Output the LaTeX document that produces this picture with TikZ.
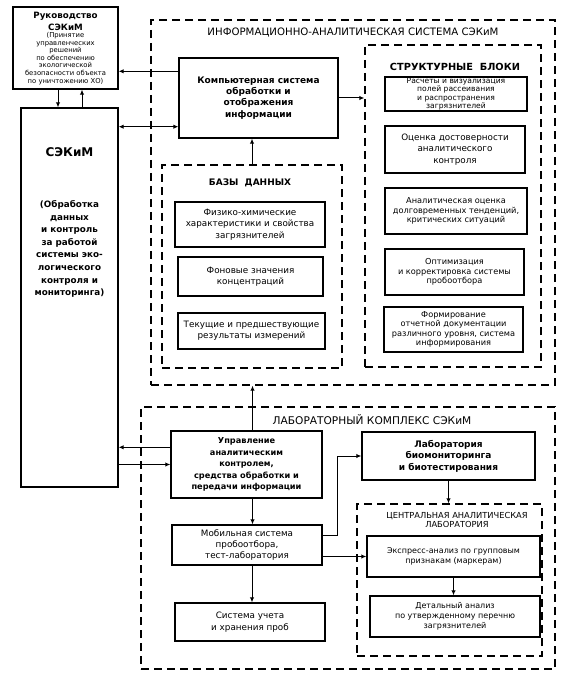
\documentclass[tikz,border=0pt]{standalone}
\usepackage{fontspec}
\setmainfont{DejaVu Sans}
\usetikzlibrary{arrows.meta}
\begin{document}
\begin{tikzpicture}[x=1pt,y=-1pt,>={Latex[length=5pt,width=4.5pt]},line width=1pt,
                    box/.style={draw, line width=1.4pt, align=center, inner sep=1pt},
                    group/.style={draw, line width=1.4pt, dash pattern=on 8pt off 5pt, inner sep=0pt},
                    label/.style={align=center, inner sep=0pt},
                    tiny/.style={font=\fontsize{8.2}{9.3}\selectfont},
                    small/.style={font=\fontsize{8}{9.8}\selectfont},
                    norm/.style={font=\fontsize{8.8}{11.3}\selectfont},
                    bold/.style={font=\bfseries\fontsize{9}{11.3}\selectfont},
                    head/.style={font=\fontsize{10.2}{12}\selectfont},
                    boldhead/.style={font=\bfseries\fontsize{9.8}{12}\selectfont}]
\useasboundingbox (0,0) rectangle (564,676);

\node[box, minimum width=105pt, minimum height=82pt] (rukov) at (65.5,48) {};
\node[label, font=\bfseries\fontsize{8.7}{11.5}\selectfont] (rukovhead) at (65.5,21.5) {Руководство\\СЭКиМ};
\node[label, font=\fontsize{6.8}{7.6}\selectfont] (rukovtext) at (65.5,58.5) {(Принятие\\управленческих\\решений\\по обеспечению\\экологической\\безопасности объекта\\по уничтожению ХО)};

\node[box, minimum width=97pt, minimum height=379pt] (sekim) at (69.5,297.5) {};
\node[label, font=\bfseries\fontsize{12}{14}\selectfont] (sekimhead) at (69.5,152) {СЭКиМ};
\node[label, font=\bfseries\fontsize{8.8}{12.6}\selectfont] (sekimtext) at (69.5,249) {(Обработка\\данных\\и контроль\\за работой\\системы эко-\\логического\\контроля и\\мониторинга)};

\node[group, minimum width=404pt, minimum height=365pt] (ias) at (353,202.5) {};
\node[label, head] (iashead) at (353,33) {ИНФОРМАЦИОННО-АНАЛИТИЧЕСКАЯ СИСТЕМА СЭКиМ};
\node[box, bold, minimum width=159pt, minimum height=80pt] (comp) at (258.5,98) {Компьютерная система\\обработки и\\отображения\\информации};

\node[group, minimum width=176pt, minimum height=322pt] (blocks) at (453,206) {};
\node[label, boldhead] (blockshead) at (455,67) {СТРУКТУРНЫЕ\ \ БЛОКИ};
\node[box, font=\fontsize{7.6}{8.4}\selectfont, minimum width=142pt, minimum height=34pt] (calc) at (456,94) {Расчеты и визуализация\\полей рассеивания\\и распространения\\загрязнителей};
\node[box, norm, minimum width=140pt, minimum height=47pt] (trust) at (455,149.5) {Оценка достоверности\\аналитического\\контроля};
\node[box, tiny, minimum width=142pt, minimum height=46pt] (trend) at (456,211) {Аналитическая оценка\\долговременных тенденций,\\критических ситуаций};
\node[box, tiny, minimum width=139pt, minimum height=46pt] (optim) at (454.5,272) {Оптимизация\\и корректировка системы\\пробоотбора};
\node[box, tiny, minimum width=139pt, minimum height=45pt] (report) at (453.5,329.5) {Формирование\\отчетной документации\\различного уровня, система\\информирования};

\node[group, minimum width=180pt, minimum height=203pt] (db) at (252,266.5) {};
\node[label, font=\bfseries\fontsize{9}{12}\selectfont] (dbhead) at (250,183) {БАЗЫ\ \ ДАННЫХ};
\node[box, norm, minimum width=150pt, minimum height=45pt] (chem) at (250,224.5) {Физико-химические\\характеристики и свойства\\загрязнителей};
\node[box, norm, minimum width=145pt, minimum height=39pt] (backgr) at (250.5,276.5) {Фоновые значения\\концентраций};
\node[box, norm, minimum width=147pt, minimum height=36pt] (meas) at (251.5,331) {Текущие и предшествующие\\результаты измерений};

\node[group, minimum width=414pt, minimum height=262pt] (lab) at (348,538) {};
\node[label, font=\fontsize{10.6}{12}\selectfont] (labhead) at (372,420) {ЛАБОРАТОРНЫЙ КОМПЛЕКС СЭКиМ};
\node[box, font=\bfseries\fontsize{8.2}{11.5}\selectfont, minimum width=151pt, minimum height=67pt] (manage) at (246.5,464.5) {Управление\\аналитическим\\контролем,\\средства обработки и\\передачи информации};
\node[box, font=\bfseries\fontsize{9}{11.5}\selectfont, minimum width=173pt, minimum height=48pt] (bio) at (448.5,456) {Лаборатория\\биомониторинга\\и биотестирования};
\node[box, norm, minimum width=150pt, minimum height=40pt] (mobile) at (247,545) {Мобильная система\\пробоотбора,\\тест-лаборатория};
\node[box, norm, minimum width=150pt, minimum height=38pt] (store) at (250,622) {Система учета\\и хранения проб};

\node[group, minimum width=185pt, minimum height=152pt] (central) at (449.5,580) {};
\node[label, font=\fontsize{8.3}{9.5}\selectfont] (centralhead) at (457,520) {ЦЕНТРАЛЬНАЯ АНАЛИТИЧЕСКАЯ\\ЛАБОРАТОРИЯ};
\node[box, small, minimum width=173pt, minimum height=41pt] (express) at (453.5,556.5) {Экспресс-анализ по групповым\\признакам (маркерам)};
\node[box, small, minimum width=170pt, minimum height=41pt] (detail) at (455,616.5) {Детальный анализ\\по утвержденному перечню\\загрязнителей};

\draw[->] ([yshift=-14pt]comp.north west) -- ([yshift=-14pt]comp.north west -| rukov.east);
\draw[->] ([xshift=-7.5pt]rukov.south) -- ([xshift=-7.5pt]rukov.south |- sekim.north);
\draw[->] ([xshift=16.5pt]rukov.south |- sekim.north) -- ([xshift=16.5pt]rukov.south);
\draw[<->] ([yshift=12pt]comp.south west -| sekim.east) -- ([yshift=12pt]comp.south west);
\draw[->] (comp.east) -- (comp.east -| blocks.west);
\draw[->] (db.north) -- (db.north |- comp.south);
\draw[->] ([xshift=6pt]manage.north) -- ([xshift=6pt]manage.north |- ias.south);
\draw[->] ([yshift=-17pt]manage.north west) -- ([yshift=-17pt]manage.north west -| sekim.east);
\draw[->] (manage.west -| sekim.east) -- (manage.west);
\draw[->] ([xshift=6pt]manage.south) -- ([xshift=6pt]manage.south |- mobile.north);
\draw[->] ([xshift=5pt]mobile.south) -- ([xshift=5pt]mobile.south |- store.north);
\draw[->] ([yshift=10pt]mobile.east) -| ([xshift=-24pt]bio.west) -- (bio.west);
\draw[->] (express.west -| mobile.east) -- (express.west);
\draw[->] (bio.south) -- (bio.south |- central.north);
\draw[->] (express.south) -- (express.south |- detail.north);

\end{tikzpicture}
\end{document}
